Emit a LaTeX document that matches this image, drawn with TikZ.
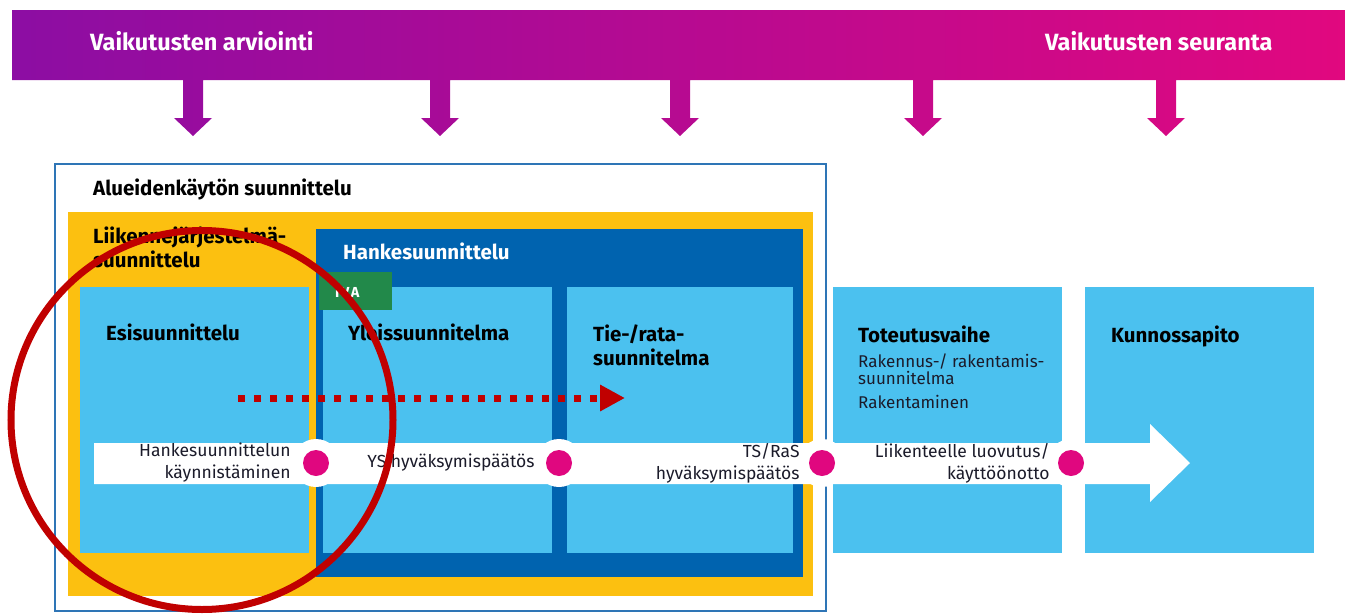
\documentclass[tikz,border=0pt]{standalone}
\usepackage{fontspec}
\setmainfont{Fira Sans}
\usetikzlibrary{arrows.meta, shapes.geometric, positioning}
\definecolor{vapurple}{HTML}{8C0DA3}
\definecolor{vamagenta}{HTML}{E1087F}
\definecolor{aluframe}{HTML}{2E75B6}
\definecolor{ljsyellow}{HTML}{FCC010}
\definecolor{hankeblue}{HTML}{0063AF}
\definecolor{phaseblue}{HTML}{4BC1EF}
\definecolor{ivagreen}{HTML}{22894A}
\definecolor{milepink}{HTML}{E0077F}
\definecolor{markred}{HTML}{C00000}
\definecolor{textdark}{HTML}{1B1B2A}

\begin{document}
\begin{tikzpicture}[
    x=1pt, y=-1pt,
    area/.style={draw=none, inner sep=0pt, anchor=north west},
    phase/.style={area, fill=phaseblue, minimum width=229pt, minimum height=266pt},
    title/.style={anchor=base west, inner sep=0pt, align=left, text=black,
                  font=\fontsize{20.5}{24}\selectfont\bfseries},
    sub/.style={anchor=base west, inner sep=0pt, align=left, text=textdark,
                font=\fontsize{17}{15}\selectfont},
    topic/.style={anchor=base west, inner sep=0pt, text=white,
                  font=\fontsize{23.5}{28}\selectfont\bfseries},
    halo/.style={circle, fill=white, minimum size=48pt, inner sep=0pt},
    mile/.style={circle, fill=milepink, minimum size=26pt, inner sep=0pt},
    milelabel/.style={inner sep=0pt, align=right, text=textdark,
                      font=\fontsize{17.5}{22}\selectfont},
    focusarr/.style={-{Triangle[length=25pt,width=25pt]}, markred, line width=7pt,
                     dash pattern=on 7pt off 9pt},
]
\useasboundingbox (0,0) rectangle (1345,616);

% --- Top band: impact assessment and follow-up ---
\shade[left color=vapurple, right color=vamagenta]
  (12,10) rectangle (1345,80)
  foreach \ax in {193,440,680,923,1166} {
    (\ax-10,79) -- (\ax-10,118) -- (\ax-19,118) -- (\ax,136)
      -- (\ax+19,118) -- (\ax+10,118) -- (\ax+10,79) -- cycle
  };
\node[topic] (arvio) at (90,50) {Vaikutusten arviointi};
\node[topic] (seur) at (1045,50) {Vaikutusten seuranta};

% --- Planning frames ---
\node[area, draw=aluframe, line width=1.5pt, fill=white,
      minimum width=771pt, minimum height=447pt] (alue) at (54,163) {};
\node[area, fill=ljsyellow, minimum width=745pt, minimum height=384pt] (ljs) at (68,212) {};
\node[area, fill=hankeblue, minimum width=487pt, minimum height=348pt] (hanke) at (316,229) {};

% --- Phases ---
\node[phase] (esi) at (80,287) {};
\node[phase] (ys) at (323,287) {};
\node[phase, minimum width=226pt] (trs) at (567,287) {};
\node[phase] (tot) at (833,287) {};
\node[phase] (kun) at (1085,287) {};
\node[area, fill=ivagreen, minimum width=73pt, minimum height=38pt] (iva) at (319,272) {};

% --- Titles (multi-line: base is the last line) ---
\node[title] (alue-t) at (93,195) {Alueidenkäytön suunnittelu};
\node[title] (ljs-t) at (93,267) {Liikennejärjestelmä-\\suunnittelu};
\node[title, text=white] (hanke-t) at (343,259) {Hankesuunnittelu};
\node[anchor=base west, inner sep=0pt, text=white,
      font=\fontsize{14.5}{14}\selectfont\bfseries\addfontfeature{LetterSpace=12}] (iva-t) at (335,297) {IVA};
\node[title] (esi-t) at (106,340) {Esisuunnittelu};
\node[title] (ys-t) at (348,340) {Yleissuunnitelma};
\node[title] (trs-t) at (593,365) {Tie-/rata-\\suunnitelma};
\node[title] (tot-t) at (858,342) {Toteutusvaihe};
\node[sub] (rs-t) at (858,384) {Rakennus-/ rakentamis-\\suunnitelma};
\node[sub] (rak-t) at (858,408) {Rakentaminen};
\node[title] (kun-t) at (1111,342) {Kunnossapito};

% --- Timeline ---
\fill[white] (94,443) -- (1150,443) -- (1150,424) -- (1190,463)
  -- (1150,502) -- (1150,484) -- (94,484) -- cycle;
\foreach \mx/\mn in {316/m1, 559/m2, 822/m3, 1071/m4} {
  \node[halo] (\mn-h) at (\mx,463) {};
  \node[mile] (\mn) at (\mx,463) {};
}
\node[milelabel, left=12pt of m1] (m1-l) {Hankesuunnittelun\\käynnistäminen};
\node[milelabel, left=11pt of m2] (m2-l) {YS hyväksymispäätös};
\node[milelabel, left=9pt of m3] (m3-l) {TS/RaS\\hyväksymispäätös};
\node[milelabel, left=8pt of m4] (m4-l) {Liikenteelle luovutus/\\käyttöönotto};

% --- Red markings ---
\coordinate (shift-s) at (238,398);
\coordinate (shift-e) at (625,398);
\draw[focusarr] (shift-s) -- (shift-e);
\node[draw=markred, line width=7pt, ellipse, inner sep=0pt,
      minimum width=382pt, minimum height=379pt] (focus) at (202,420) {};

\end{tikzpicture}
\end{document}
